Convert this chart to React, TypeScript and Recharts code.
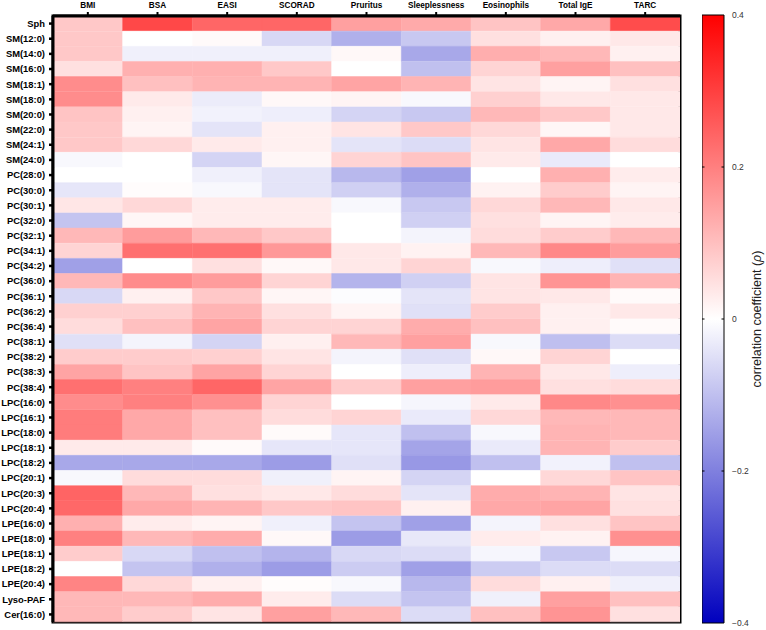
import { BarChart, Bar, XAxis, YAxis, Cell, ReferenceArea, ReferenceLine } from 'recharts';

const FONT = "Arial, 'Liberation Sans', Helvetica, sans-serif";

const lipids = [
  'Sph', 'SM(12:0)', 'SM(14:0)', 'SM(16:0)', 'SM(18:1)', 'SM(18:0)', 'SM(20:0)', 'SM(22:0)', 'SM(24:1)', 'SM(24:0)',
  'PC(28:0)', 'PC(30:0)', 'PC(30:1)', 'PC(32:0)', 'PC(32:1)', 'PC(34:1)', 'PC(34:2)', 'PC(36:0)', 'PC(36:1)', 'PC(36:2)',
  'PC(36:4)', 'PC(38:1)', 'PC(38:2)', 'PC(38:3)', 'PC(38:4)', 'LPC(16:0)', 'LPC(16:1)', 'LPC(18:0)', 'LPC(18:1)', 'LPC(18:2)',
  'LPC(20:1)', 'LPC(20:3)', 'LPC(20:4)', 'LPE(16:0)', 'LPE(18:0)', 'LPE(18:1)', 'LPE(18:2)', 'LPE(20:4)', 'Lyso-PAF', 'Cer(16:0)',
];

const outcomes = ['BMI', 'BSA', 'EASI', 'SCORAD', 'Pruritus', 'Sleeplessness', 'Eosinophils', 'Total IgE', 'TARC'];

// spearman rho per outcome, same order as lipids
const bmi = [
  0.086, 0.086, 0.086, 0.049, 0.18, 0.18, 0.093, 0.086, 0.086, -0.011,
  0.0, -0.039, 0.039, -0.093, 0.111, 0.067, -0.149, 0.111, -0.061, 0.074,
  0.055, -0.049, 0.08, 0.143, 0.224, 0.18, 0.205, 0.205, 0.033, -0.136,
  -0.011, 0.243, 0.237, 0.124, 0.199, 0.08, 0.0, 0.193, 0.111, 0.111,
];
const bsa = [
  0.287, 0.0, -0.024, 0.124, 0.099, 0.033, 0.024, 0.017, 0.061, 0.0,
  0.0, 0.005, 0.061, 0.014, 0.155, 0.224, 0.0, 0.18, 0.024, 0.074,
  0.099, -0.017, 0.08, 0.093, 0.199, 0.199, 0.136, 0.136, 0.033, -0.136,
  0.055, 0.111, 0.136, 0.03, 0.111, -0.061, -0.093, 0.061, 0.111, 0.08,
];
const easi = [
  0.24, 0.008, -0.024, 0.124, 0.118, -0.03, -0.02, -0.042, 0.033, -0.067,
  -0.024, -0.011, 0.03, 0.03, 0.111, 0.224, 0.049, 0.155, 0.086, 0.118,
  0.143, -0.067, 0.074, 0.143, 0.24, 0.174, 0.099, 0.099, 0.008, -0.136,
  0.055, 0.049, 0.118, 0.017, 0.13, -0.099, -0.124, 0.024, 0.13, 0.042,
];
const scorad = [
  0.24, -0.061, -0.024, 0.086, 0.118, 0.011, -0.027, 0.024, 0.024, 0.014,
  -0.042, -0.042, 0.03, 0.03, 0.086, 0.162, 0.011, 0.067, 0.014, 0.049,
  0.067, 0.024, 0.042, 0.067, 0.143, 0.067, 0.055, 0.008, -0.039, -0.155,
  -0.024, 0.036, 0.086, -0.024, 0.011, -0.118, -0.155, 0.005, 0.03, 0.149,
];
const pruritus = [
  0.149, -0.124, 0.011, 0.0, 0.143, 0.017, -0.067, 0.042, -0.042, 0.067,
  -0.111, -0.074, -0.011, 0.0, 0.0, 0.036, 0.036, -0.118, -0.005, 0.017,
  0.067, 0.111, -0.017, 0.0, 0.08, 0.0, 0.067, -0.039, -0.039, -0.049,
  0.017, 0.055, 0.093, -0.093, -0.155, -0.061, -0.08, -0.011, -0.055, 0.111,
];
const sleeplessness = [
  0.133, -0.086, -0.136, -0.099, 0.118, -0.011, -0.086, 0.086, -0.055, 0.093,
  -0.149, -0.124, -0.086, -0.074, -0.017, 0.02, 0.067, -0.074, -0.042, -0.049,
  0.13, 0.149, -0.049, -0.027, 0.149, -0.014, -0.033, -0.099, -0.143, -0.162,
  -0.067, -0.042, 0.024, -0.149, -0.036, -0.055, -0.149, -0.111, -0.093, -0.055,
];
const eosinophils = [
  0.093, 0.049, 0.127, 0.067, 0.042, 0.074, 0.111, 0.061, 0.042, 0.033,
  0.0, 0.02, 0.061, 0.049, 0.055, 0.111, -0.011, 0.042, 0.042, 0.08,
  0.099, -0.011, 0.011, 0.118, 0.155, 0.033, 0.061, -0.011, -0.033, -0.099,
  0.0, 0.13, 0.136, -0.017, 0.03, -0.014, -0.08, 0.055, -0.024, 0.099,
];
const totalIgE = [
  0.136, 0.024, 0.111, 0.149, 0.017, 0.036, 0.086, 0.014, 0.136, -0.033,
  0.124, 0.08, 0.111, 0.017, 0.08, 0.187, -0.027, 0.168, 0.036, 0.024,
  0.024, -0.1, 0.067, 0.036, 0.049, 0.187, 0.111, 0.118, 0.118, -0.02,
  0.061, 0.118, 0.143, 0.049, 0.02, -0.086, -0.055, 0.024, 0.149, 0.168,
];
const tarc = [
  0.281, 0.036, 0.024, 0.099, 0.049, 0.036, 0.036, 0.036, 0.055, 0.0,
  0.03, 0.017, 0.036, 0.03, 0.111, 0.155, -0.049, 0.118, 0.008, 0.036,
  0.008, -0.055, 0.0, -0.027, 0.055, 0.174, 0.111, 0.111, 0.08, -0.099,
  0.093, 0.042, 0.049, 0.093, 0.174, -0.014, -0.055, -0.024, 0.099, 0.049,
];

const series = [bmi, bsa, easi, scorad, pruritus, sleeplessness, eosinophils, totalIgE, tarc];

const scaleTicks = [-0.4, -0.2, 0, 0.2, 0.4];
const scaleInnerTicks = [-0.2, 0, 0.2];
const LIMIT = 0.4;

function rhoColor(v: number) {
  const t = Math.min(Math.abs(v) / LIMIT, 1);
  const c = Math.round(255 * (1 - t));
  if (v >= 0) return `rgb(255,${c},${c})`;
  return `rgb(${c},${c},${Math.round(255 - 65 * t)})`;
}

// each cell is one unit wide, so the stacked bars tile the grid
const rows = lipids.map((name) => {
  const r: Record<string, string | number> = { name };
  outcomes.forEach((_, j) => { r[`c${j}`] = 1; });
  return r;
});

const scaleBar = [{ name: 'rho', span: [-LIMIT, LIMIT] }];

const fmtScale = (v: number) => (v === 0 ? '0' : v < 0 ? `\u2212${Math.abs(v)}` : `${v}`);

function ScaleLabel(props: any) {
  const vb = props.viewBox || {};
  const cx = vb.x + 33;
  const cy = vb.y + vb.height / 2;
  return (
    <text x={cx} y={cy} transform={`rotate(-90, ${cx}, ${cy})`} textAnchor="middle" dominantBaseline="central"
      fontSize={12.5} fill="#222" fontFamily={FONT}>
      correlation coefficient (<tspan fontStyle="italic">ρ</tspan>)
    </text>
  );
}

export default function App() {
  return (
    <div style={{ position: 'absolute', left: 0, top: 0, width: 766, height: 630, background: '#fff', fontFamily: FONT }}>
      <div style={{ position: 'absolute', left: 0, top: 0 }}>
        <BarChart width={766} height={630} data={rows} layout="vertical" barCategoryGap={0} barGap={0}
          margin={{ top: 0, right: 86, bottom: 8, left: 0 }}>
          <XAxis type="number" orientation="top" domain={[0, outcomes.length]} allowDataOverflow
            ticks={outcomes.map((_, j) => j + 0.5)} tickFormatter={(v: number) => outcomes[Math.floor(v)]}
            interval={0} height={16} tickSize={4} tickMargin={4}
            axisLine={{ stroke: '#000', strokeWidth: 3 }} tickLine={{ stroke: '#000', strokeWidth: 2 }}
            tick={{ fontSize: 8.2, fontWeight: 700, fill: '#000', fontFamily: FONT }} />
          <YAxis type="category" dataKey="name" width={53} interval={0} tickSize={4} tickMargin={4}
            axisLine={{ stroke: '#000', strokeWidth: 3 }} tickLine={{ stroke: '#000', strokeWidth: 2.5 }}
            tick={{ fontSize: 9.4, fontWeight: 700, fill: '#000', fontFamily: FONT }} />
          {series.map((vals, j) => (
            <Bar key={outcomes[j]} dataKey={`c${j}`} stackId="heat" isAnimationActive={false}>
              {vals.map((v, i) => (
                <Cell key={lipids[i]} fill={rhoColor(v)} stroke={rhoColor(v)} strokeWidth={0.5} />
              ))}
            </Bar>
          ))}
          <ReferenceArea x1={0} x2={outcomes.length} fill="none" stroke="#000" strokeWidth={3} ifOverflow="visible" />
        </BarChart>
      </div>

      <div style={{ position: 'absolute', left: 702, top: 0 }}>
        <BarChart width={64} height={630} data={scaleBar} barCategoryGap={0}
          margin={{ top: 15, right: 0, bottom: 7, left: 0 }}>
          <defs>
            <linearGradient id="rhoGrad" x1="0" y1="0" x2="0" y2="1">
              <stop offset="0%" stopColor="rgb(255,0,0)" />
              <stop offset="50%" stopColor="#ffffff" />
              <stop offset="100%" stopColor="rgb(0,0,190)" />
            </linearGradient>
          </defs>
          <XAxis dataKey="name" hide />
          <YAxis orientation="right" type="number" domain={[-LIMIT, LIMIT]} ticks={scaleTicks} interval={0}
            width={42} axisLine={false} tickLine={false} tickFormatter={fmtScale}
            tick={{ fontSize: 8.5, fill: '#333', fontFamily: FONT }} label={<ScaleLabel />} />
          <Bar dataKey="span" fill="url(#rhoGrad)" stroke="#000" strokeWidth={1} isAnimationActive={false} />
          {scaleInnerTicks.map((t) => (
            <ReferenceLine key={t} y={t} stroke="#000" strokeWidth={1} strokeDasharray="2.5 17 2.5" />
          ))}
        </BarChart>
      </div>
    </div>
  );
}
